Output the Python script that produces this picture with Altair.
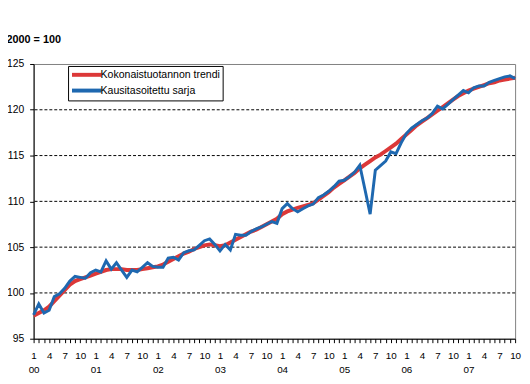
import altair as alt
import pandas as pd

# Monthly values, Jan 2000 .. Oct 2007 (2000 = 100)
trend = [97.5, 97.8, 98.1, 98.5, 99.1, 99.7, 100.3, 100.9, 101.3, 101.5, 101.7, 101.9,
         102.1, 102.3, 102.5, 102.6, 102.6, 102.6, 102.5, 102.5, 102.5, 102.6, 102.7, 102.8,
         102.9, 103.1, 103.4, 103.7, 104.0, 104.3, 104.5, 104.8, 105.0, 105.2, 105.3, 105.2,
         105.1, 105.2, 105.5, 105.8, 106.1, 106.4, 106.7, 106.9, 107.2, 107.5, 107.8, 108.1,
         108.6, 108.9, 109.1, 109.3, 109.45, 109.6, 109.8, 110.2, 110.6, 111.0, 111.5, 111.9,
         112.3, 112.7, 113.1, 113.6, 114.0, 114.4, 114.8, 115.1, 115.5, 115.9, 116.3, 116.8,
         117.3, 117.8, 118.3, 118.7, 119.1, 119.5, 119.9, 120.3, 120.7, 121.1, 121.5, 121.8,
         122.1, 122.3, 122.5, 122.7, 122.9, 123.0, 123.2, 123.3, 123.4, 123.5]

adjusted = [97.6, 98.8, 97.8, 98.1, 99.6, 99.9, 100.5, 101.3, 101.8, 101.7, 101.6, 102.2,
            102.5, 102.3, 103.5, 102.6, 103.3, 102.5, 101.7, 102.5, 102.3, 102.8, 103.3, 102.9,
            102.8, 102.8, 103.8, 103.9, 103.6, 104.4, 104.6, 104.7, 105.2, 105.7, 105.9, 105.3,
            104.6, 105.3, 104.7, 106.4, 106.3, 106.3, 106.7, 107.0, 107.2, 107.5, 107.8, 107.6,
            109.2, 109.75, 109.2, 108.85, 109.2, 109.5, 109.7, 110.4, 110.7, 111.1, 111.6, 112.2,
            112.3, 112.7, 113.2, 113.95, 111.3, 108.6, 113.4, 113.9, 114.4, 115.4, 115.2, 116.4,
            117.4, 118.0, 118.4, 118.8, 119.1, 119.6, 120.4, 120.1, 120.6, 121.1, 121.6, 122.1,
            121.85, 122.4, 122.6, 122.6, 123.0, 123.2, 123.4, 123.6, 123.7, 123.4]

series_names = ["Kokonaistuotannon trendi", "Kausitasoitettu sarja"]
series_colors = ["#DC3838", "#1E68B0"]
y_ticks = [95, 100, 105, 110, 115, 120, 125]
grid_values = [100, 105, 110, 115, 120]

n = len(trend)
df = pd.concat([
    pd.DataFrame({"m": list(range(n)), "v": trend, "series": series_names[0]}),
    pd.DataFrame({"m": list(range(n)), "v": adjusted, "series": series_names[1]}),
], ignore_index=True)
grid_df = pd.DataFrame({"g": grid_values})

FONT = "Liberation Sans"

label_expr = ("datum.value % 12 == 0 ? ['1', '0' + floor(datum.value / 12)] : "
              "(datum.value % 3 == 0 ? '' + (datum.value % 12 + 1) : '')")

x_enc = alt.X("m:Q",
              scale=alt.Scale(domain=[0, n - 1], nice=False, zero=False),
              axis=alt.Axis(values=list(range(n)), labelExpr=label_expr, title=None,
                            grid=False, tickSize=4, labelPadding=8,
                            domainColor="black", tickColor="black",
                            labelFont=FONT, labelFontSize=10, labelColor="black",
                            labelOverlap=False, labelBound=False, labelFlush=False,
                            labelLineHeight=14))

y_scale = alt.Scale(domain=[95, 125], nice=False, zero=False)
y_enc = alt.Y("v:Q", scale=y_scale,
              axis=alt.Axis(values=y_ticks, title=None, grid=False, tickSize=4,
                            labelPadding=6, domainColor="black", tickColor="black",
                            labelFont=FONT, labelFontSize=10.5, labelColor="black"))

grid = alt.Chart(grid_df).mark_rule(color="black", strokeWidth=1, strokeDash=[3, 2]).encode(
    y=alt.Y("g:Q", scale=y_scale)
)

color_scale = alt.Scale(domain=series_names, range=series_colors)
legend = alt.Legend(title=None, orient="none", legendX=35, legendY=2, direction="vertical",
                    symbolType="M-1,0H5", symbolSize=100, symbolStrokeWidth=4,
                    labelFont=FONT, labelFontSize=10.7, labelColor="black", labelOffset=17,
                    strokeColor="black", fillColor="white", padding=2, rowPadding=0)
color_enc = alt.Color("series:N", scale=color_scale, legend=legend)

red = alt.Chart(df).transform_filter(
    alt.datum.series == series_names[0]
).mark_line(strokeWidth=4).encode(x=x_enc, y=y_enc, color=color_enc)

blue = alt.Chart(df).transform_filter(
    alt.datum.series == series_names[1]
).mark_line(strokeWidth=3).encode(x=x_enc, y=y_enc, color=color_enc)

chart = alt.layer(grid, red, blue).properties(
    width=489, height=279,
    autosize=alt.AutoSizeParams(type="none"),
    title=alt.TitleParams("2000 = 100", anchor="start", frame="bounds", font=FONT,
                          fontSize=11, fontWeight="bold", color="black", offset=14),
    padding={"left": 26, "top": 54, "right": 7, "bottom": 35},
).configure_view(stroke="#808080", strokeWidth=1)

chart.save("out.html", embed_options={"renderer": "svg", "actions": False})
